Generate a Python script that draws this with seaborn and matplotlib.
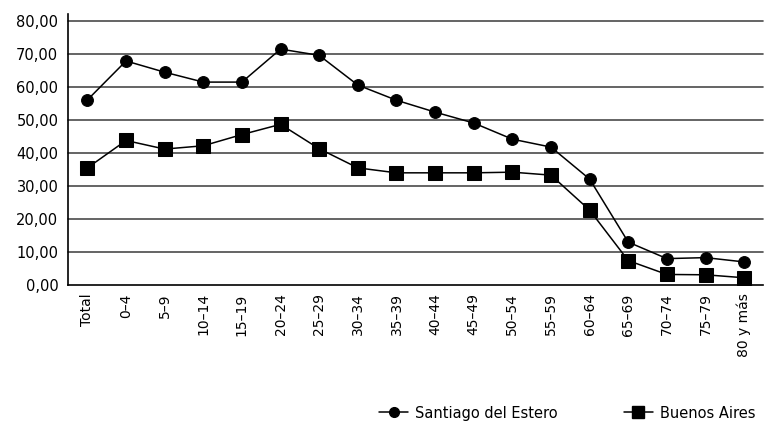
import matplotlib
matplotlib.use("Agg")
import matplotlib.pyplot as plt
import seaborn as sns
import pandas as pd
from matplotlib.ticker import FuncFormatter, FixedLocator
from matplotlib.lines import Line2D

categories = ["Total", "0–4", "5–9", "10–14", "15–19", "20–24", "25–29", "30–34",
              "35–39", "40–44", "45–49", "50–54", "55–59", "60–64", "65–69",
              "70–74", "75–79", "80 y más"]
santiago = [56.1, 67.9, 64.5, 61.5, 61.5, 71.5, 69.6, 60.6, 56.0, 52.4, 49.1,
            44.2, 41.8, 32.1, 13.0, 8.0, 8.3, 7.0]
buenos_aires = [35.5, 43.8, 41.2, 42.2, 45.6, 48.7, 41.3, 35.5, 34.0, 34.0, 34.0,
                34.2, 33.3, 22.7, 7.4, 3.2, 3.1, 2.2]
series_names = ["Santiago del Estero", "Buenos Aires"]
yticks = [0, 10, 20, 30, 40, 50, 60, 70, 80]

df = pd.DataFrame({
    "cat": categories * 2,
    "x": list(range(len(categories))) * 2,
    "value": santiago + buenos_aires,
    "serie": [series_names[0]] * len(categories) + [series_names[1]] * len(categories),
})

sns.set_style("white")
plt.rcParams["font.family"] = ["DejaVu Sans"]
plt.rcParams["text.color"] = "black"
plt.rcParams["xtick.color"] = "black"
plt.rcParams["ytick.color"] = "black"
plt.rcParams["xtick.labelcolor"] = "black"
plt.rcParams["ytick.labelcolor"] = "black"

fig = plt.figure(figsize=(7.65, 4.21), dpi=100)
ax = fig.add_axes([0.089, 0.323, 0.909, 0.627])

markers = {series_names[0]: "o", series_names[1]: "s"}
sizes = {series_names[0]: 8.5, series_names[1]: 9.5}
for name in series_names:
    sub = df[df["serie"] == name]
    sns.lineplot(data=sub, x="x", y="value", ax=ax, color="black", lw=1.1,
                 marker=markers[name], markersize=sizes[name],
                 markeredgecolor="black", markerfacecolor="black", legend=False,
                 zorder=3)

ax.set_xlim(-0.5, len(categories) - 0.5)
ax.set_yticks(yticks)
ax.yaxis.set_major_formatter(FuncFormatter(lambda v, p: f"{v:.2f}".replace(".", ",")))
ax.set_xticks(range(len(categories)))
ax.set_xticklabels(categories, rotation=90, fontsize=10)
ax.xaxis.set_minor_locator(FixedLocator([i - 0.5 for i in range(len(categories) + 1)]))
ax.tick_params(axis="x", which="major", length=0, pad=6, labelcolor="black")
ax.tick_params(axis="x", which="minor", length=5, width=1, color="black", direction="out")
ax.tick_params(axis="y", length=4, width=1, color="black", direction="out", labelsize=10.5,
               pad=3, labelcolor="black")
ax.set_xlabel("")
ax.set_ylabel("")

for v in yticks[1:]:
    ax.axhline(v, color="#4a4a4a", lw=1.2, zorder=1, clip_on=False)

for s in ["top", "right"]:
    ax.spines[s].set_visible(False)
for s in ["left", "bottom"]:
    ax.spines[s].set_color("black")
    ax.spines[s].set_linewidth(1.2)
ax.spines["left"].set_bounds(0, 82)
ax.set_ylim(0, 80)

handles = [Line2D([], [], color="black", lw=1.1, marker=markers[n], markersize=sizes[n] - 1.5)
           for n in series_names]
fig.legend(handles, series_names, loc="lower right", bbox_to_anchor=(1.005, -0.03),
           ncol=2, frameon=False, fontsize=10.5, handlelength=2.0, columnspacing=4.5,
           handletextpad=0.5, labelcolor="black")

fig.savefig("out.png", dpi=100)
